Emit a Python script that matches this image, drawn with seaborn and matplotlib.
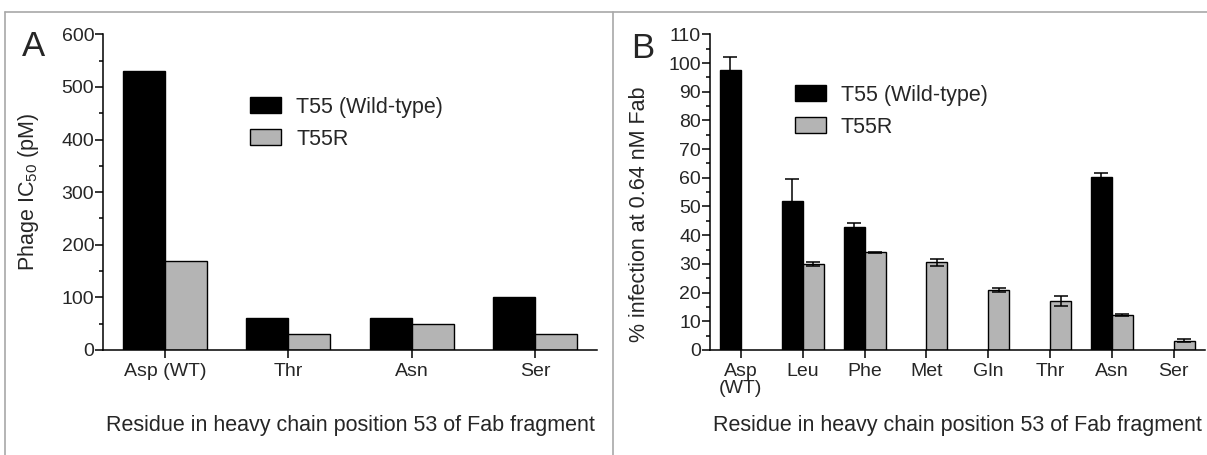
import numpy as np
import pandas as pd
import matplotlib.pyplot as plt
import matplotlib.lines as mlines
import seaborn as sns

# panel A data
res_a = ["Asp (WT)", "Thr", "Asn", "Ser"]
ic50_wt = [530, 60, 60, 100]
ic50_t55r = [170, 30, 50, 30]

# panel B data (nan = not measured)
res_b = ["Asp\n(WT)", "Leu", "Phe", "Met", "Gln", "Thr", "Asn", "Ser"]
inf_wt = [97.6, 51.9, 42.7, np.nan, np.nan, np.nan, 60.4, np.nan]
inf_wt_err = [4.4, 7.7, 1.6, np.nan, np.nan, np.nan, 1.2, np.nan]
inf_t55r = [np.nan, 29.9, 34.0, 30.5, 20.8, 17.1, 12.3, 3.3]
inf_t55r_err = [np.nan, 0.6, 0.2, 1.2, 0.7, 1.7, 0.35, 0.45]

series = ["T55 (Wild-type)", "T55R"]
colors = {"T55 (Wild-type)": "black", "T55R": "#b4b4b4"}

sns.set_style("ticks")
plt.rcParams['font.family'] = ['Liberation Sans', 'DejaVu Sans']
plt.rcParams['mathtext.fontset'] = 'custom'
plt.rcParams['mathtext.rm'] = 'Liberation Sans'

df_a = pd.DataFrame({
    "residue": res_a * 2,
    "value": ic50_wt + ic50_t55r,
    "clone": [series[0]] * 4 + [series[1]] * 4,
})
df_b = pd.DataFrame({
    "residue": res_b * 2,
    "value": inf_wt + inf_t55r,
    "clone": [series[0]] * 8 + [series[1]] * 8,
}).dropna()
errs = {series[0]: inf_wt_err, series[1]: inf_t55r_err}

fig = plt.figure(figsize=(12.07, 4.55), dpi=100)
axA = fig.add_axes([0.0855, 0.2308, 0.4091, 0.6938])
axB = fig.add_axes([0.5882, 0.2308, 0.4099, 0.6938])

for ax, df, order in [(axA, df_a, res_a), (axB, df_b, res_b)]:
    sns.barplot(data=df, x="residue", y="value", hue="clone", order=order,
                hue_order=series, palette=colors, width=0.68, errorbar=None,
                edgecolor="black", linewidth=1, saturation=1, ax=ax)
    ax.set_xlim(-0.5, len(order) - 0.5)
    ax.spines[["top", "right"]].set_visible(False)
    for s in ["left", "bottom"]:
        ax.spines[s].set_linewidth(1.1)
        ax.spines[s].set_color("black")
    ax.tick_params(axis="both", labelsize=14, width=1.1, color="black")
    ax.tick_params(axis="y", length=5.5, pad=1)
    ax.tick_params(axis="x", length=5.5, pad=4)
    ax.tick_params(axis="y", which="minor", length=3, width=1.1, color="black")

# error bars in panel B, placed at the drawn bars
for cont, name in zip(axB.containers, series):
    for p in cont.patches:
        xc = p.get_x() + p.get_width() / 2
        i = int(round(xc))
        e = errs[name][i]
        if np.isnan(e):
            continue
        axB.errorbar(xc, p.get_height(), yerr=e, color="black", lw=1.1,
                     capsize=4.7, capthick=1.1, zorder=5)

axA.set_ylim(0, 600)
axA.set_yticks(np.arange(0, 601, 100))
axA.set_yticks(np.arange(0, 601, 50), minor=True)
axA.set_ylabel("Phage IC$_{50}$ (pM)", fontsize=15.5)

axB.set_ylim(0, 110)
axB.set_yticks(np.arange(0, 111, 10))
axB.set_yticks(np.arange(0, 111, 5), minor=True)
axB.set_ylabel("% infection at 0.64 nM Fab", fontsize=15.5)

for lbl in axB.get_xticklabels():
    lbl.set_linespacing(0.95)

for ax in (axA, axB):
    ax.set_xlabel("Residue in heavy chain position 53 of Fab fragment",
                  fontsize=15.5)
    ax.xaxis.set_label_coords(0.5, -0.205)
axA.yaxis.set_label_coords(-0.125, 0.5)
axB.yaxis.set_label_coords(-0.121, 0.43)

for ax, anchor in [(axA, (0.297, 0.802)), (axB, (0.171, 0.84))]:
    ax.legend(loc="upper left", bbox_to_anchor=anchor, frameon=False,
              fontsize=15.5, handlelength=1.45, handleheight=0.75,
              handletextpad=0.7, labelspacing=0.5, borderpad=0,
              borderaxespad=0)

fig.text(0.018, 0.935, "A", fontsize=25, va="top", ha="left")
fig.text(0.523, 0.93, "B", fontsize=25, va="top", ha="left")

# thin gray frame around the two panels
frame = dict(color="#a8a8a8", lw=1.2, transform=fig.transFigure)
fig.add_artist(mlines.Line2D([5 / 1207, 1], [1 - 12 / 455] * 2, **frame))
fig.add_artist(mlines.Line2D([5 / 1207] * 2, [0, 1 - 12 / 455], **frame))
fig.add_artist(mlines.Line2D([613 / 1207] * 2, [0, 1 - 12 / 455], **frame))

fig.savefig("out.png", dpi=100)
